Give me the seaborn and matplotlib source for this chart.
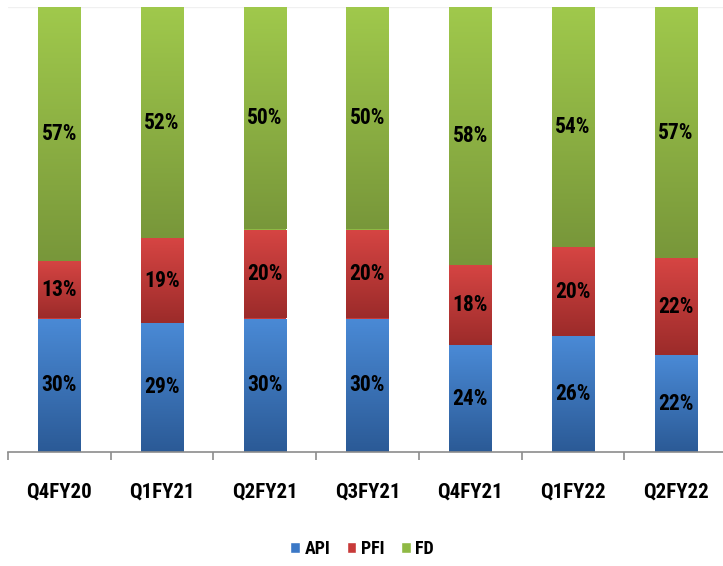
import numpy as np
import matplotlib
matplotlib.use("Agg")
import matplotlib.pyplot as plt
from matplotlib.patches import Patch
from matplotlib.colors import LinearSegmentedColormap
import seaborn as sns

quarters = ["Q4FY20", "Q1FY21", "Q2FY21", "Q3FY21", "Q4FY21", "Q1FY22", "Q2FY22"]
api = [30, 29, 30, 30, 24, 26, 22]
pfi = [13, 19, 20, 20, 18, 20, 22]
fd = [57, 52, 50, 50, 58, 54, 57]

series = [("API", api, "#3b78c6", "#4a8ad6", "#2b5a96"),
          ("PFI", pfi, "#c83a39", "#d64543", "#9c2b2a"),
          ("FD", fd, "#8fb944", "#a0c94c", "#78973a")]

sns.set_theme(style="white")
plt.rcParams["font.family"] = ["Roboto Condensed", "Liberation Sans Narrow", "Lato", "DejaVu Sans"]

fig = plt.figure(figsize=(7.23, 5.66), dpi=100)
ax = fig.add_axes([8 / 723, 1 - 452 / 566, 719 / 723, 445 / 566])

totals = np.array(api) + np.array(pfi) + np.array(fd)
bottom = np.zeros(len(quarters))
bar_w = 0.41
for name, vals, base, top_c, bot_c in series:
    share = np.array(vals) / totals
    sns.barplot(x=quarters, y=share, bottom=bottom, width=bar_w, color=base,
                saturation=1, ax=ax, linewidth=0)
    for i, v in enumerate(vals):
        ax.text(i, bottom[i] + share[i] / 2, f"{v}%", ha="center", va="center",
                fontsize=15.5, fontweight="bold", color="black", zorder=5)
    bottom += share

# vertical gradient inside each bar segment
cmaps = {s[2]: LinearSegmentedColormap.from_list(s[0], [s[4], s[3]]) for s in series}
grad = np.linspace(0, 1, 256).reshape(-1, 1)
for p in list(ax.patches):
    fc = matplotlib.colors.to_hex(p.get_facecolor())
    cmap = cmaps.get(fc)
    if cmap is None:
        continue
    x0, y0 = p.get_x(), p.get_y()
    w, h = p.get_width(), p.get_height()
    im = ax.imshow(grad, cmap=cmap, origin="lower", aspect="auto",
                   extent=(x0, x0 + w, y0, y0 + h), zorder=2, interpolation="bilinear")
    im.set_clip_path(p)

ax.set_xlim(-0.5, len(quarters) - 0.5)
ax.set_ylim(0, 1)
ax.axhline(1, color="#f0f0f0", lw=1, zorder=0)
for s in ["top", "right", "left"]:
    ax.spines[s].set_visible(False)
ax.spines["bottom"].set_color("#8c8c8c")
ax.spines["bottom"].set_linewidth(1.2)
ax.set_yticks([])
ax.set_xticks(range(len(quarters)))
ax.set_xticklabels(quarters, fontsize=15, fontweight="bold", color="black")
ax.tick_params(axis="x", which="major", length=0, pad=22)
ax.set_xticks(np.arange(-0.5, len(quarters)), minor=True)
ax.tick_params(axis="x", which="minor", length=6, width=1.2, color="#8c8c8c", bottom=True)
ax.set_xlabel("")
ax.set_ylabel("")

handles = [Patch(facecolor=s[2], label=s[0]) for s in series]
leg = fig.legend(handles=handles, loc="center", bbox_to_anchor=(362 / 723, 1 - 549 / 566),
                 ncol=3, frameon=False, handlelength=0.55, handleheight=0.55, handletextpad=0.25,
                 columnspacing=0.9, prop={"size": 13, "weight": "bold"})
for t in leg.get_texts():
    t.set_color("black")

fig.savefig("out.png", dpi=100)
